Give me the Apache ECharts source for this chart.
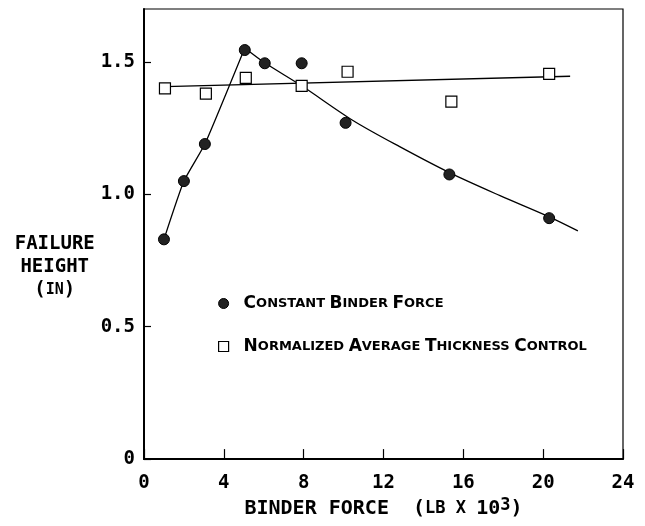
<!DOCTYPE html>
<html>
<head>
<meta charset="utf-8">
<script src="https://cdn.jsdelivr.net/npm/echarts@6/dist/echarts.min.js"></script>
<style>
  html, body { margin: 0; padding: 0; background: #fff; }
  #chart { width: 645px; height: 526px; }
</style>
</head>
<body>
<div id="chart"></div>
<script>
// Measured failure heights (in) versus binder force (lb x 10^3)
const cbfX = [1.0, 2.0, 3.05, 5.05, 6.05, 7.9, 10.1, 15.3, 20.3];
const cbfY = [0.83, 1.05, 1.19, 1.545, 1.495, 1.495, 1.27, 1.075, 0.91];

const natcX = [1.05, 3.1, 5.1, 7.9, 10.2, 15.4, 20.3];
const natcY = [1.40, 1.38, 1.44, 1.41, 1.463, 1.35, 1.455];

// Hand-drawn trend curves through the constant-force data
const cbfRiseX = [1.0, 2.0, 3.05, 5.05];
const cbfRiseY = [0.83, 1.05, 1.19, 1.553];
const cbfFallX = [5.05, 6.05, 7.9, 10.47, 12.81, 15.33, 17.84, 20.3, 21.74];
const cbfFallY = [1.553, 1.497, 1.41, 1.279, 1.18, 1.081, 0.995, 0.915, 0.862];

// Straight trend line through the thickness-control data
const natcFitX = [1.05, 21.35];
const natcFitY = [1.407, 1.446];

const xTicks = [0, 4, 8, 12, 16, 20, 24];
const yTicks = [0, 0.5, 1.0, 1.5];

const seriesNames = ['Constant Binder Force', 'Normalized Average Thickness Control'];

const MONO = '"DejaVu Sans Mono", "Liberation Mono", monospace';
const SANS = '"DejaVu Sans", "Liberation Sans", sans-serif';

const pairs = (xs, ys) => xs.map((x, i) => [x, ys[i]]);

// Small-caps rendering: first letter of each word full size, the rest reduced
function smallCaps(text) {
  return text.split(' ').map(w =>
    '{c|' + w[0].toUpperCase() + '}' + (w.length > 1 ? '{s|' + w.slice(1).toUpperCase() + '}' : '')
  ).join('{s| }');
}

const chart = echarts.init(document.getElementById('chart'), null, { renderer: 'canvas' });

const lineStyle = { color: '#000', width: 1.3 };

chart.setOption({
  backgroundColor: '#fff',
  animation: false,
  grid: {
    left: 144, right: 22, top: 9, bottom: 59,
    show: true, borderColor: '#000', borderWidth: 1.2, backgroundColor: 'transparent'
  },
  xAxis: {
    type: 'value', min: xTicks[0], max: xTicks[xTicks.length - 1], interval: 4,
    axisLine: { lineStyle: { color: '#000', width: 2 } },
    axisTick: { inside: true, length: 10, lineStyle: { color: '#000', width: 1.2 } },
    splitLine: { show: false },
    axisLabel: { margin: 14, color: '#000', fontFamily: MONO, fontWeight: 'bold', fontSize: 19 },
    name: 'BINDER FORCE  {c|(}{s|LB X }{c|10}{sup|3}{c|)}',
    nameLocation: 'middle', nameGap: 42,
    nameTextStyle: {
      color: '#000', fontFamily: MONO, fontWeight: 'bold', fontSize: 20,
      align: 'center', verticalAlign: 'middle', lineHeight: 24,
      rich: {
        c: { fontFamily: MONO, fontWeight: 'bold', fontSize: 20, lineHeight: 24, color: '#000' },
        s: { fontFamily: MONO, fontWeight: 'bold', fontSize: 17, lineHeight: 24, color: '#000' },
        sup: { fontFamily: MONO, fontWeight: 'bold', fontSize: 17, lineHeight: 15, verticalAlign: 'top', color: '#000' }
      }
    }
  },
  yAxis: {
    type: 'value', min: 0, max: 1.7, interval: 0.5,
    axisLine: { show: true, lineStyle: { color: '#000', width: 2 } },
    axisTick: { show: true, inside: true, length: 7, lineStyle: { color: '#000', width: 1.2 },
      customValues: yTicks },
    splitLine: { show: false },
    axisLabel: {
      margin: 9, color: '#000', fontFamily: MONO, fontWeight: 'bold', fontSize: 19,
      customValues: yTicks,
      formatter: v => (v === 0 ? '0' : v.toFixed(1))
    },
    name: 'FAILURE\nHEIGHT\n{c|(}{s|IN}{c|)}',
    nameLocation: 'middle', nameRotate: 0, nameGap: 88,
    nameTextStyle: {
      color: '#000', fontFamily: MONO, fontWeight: 'bold', fontSize: 19, lineHeight: 23,
      align: 'center', verticalAlign: 'middle', padding: [66, 0, 0, 0],
      rich: {
        c: { fontFamily: MONO, fontWeight: 'bold', fontSize: 19, lineHeight: 23, color: '#000' },
        s: { fontFamily: MONO, fontWeight: 'bold', fontSize: 15, lineHeight: 23, color: '#000' }
      }
    }
  },
  legend: {
    orient: 'vertical', left: 213, top: 290, itemGap: 26,
    itemWidth: 10, itemHeight: 10,
    data: [
      { name: seriesNames[0], icon: 'circle', itemStyle: { color: '#222', borderColor: '#000', borderWidth: 1 } },
      { name: seriesNames[1], icon: 'rect', itemStyle: { color: '#fff', borderColor: '#000', borderWidth: 1.2 } }
    ],
    formatter: name => smallCaps(name),
    textStyle: {
      padding: [0, 0, 0, 10],
      rich: {
        c: { fontFamily: SANS, fontWeight: 'bold', fontSize: 17, lineHeight: 20, color: '#000' },
        s: { fontFamily: SANS, fontWeight: 'bold', fontSize: 13, lineHeight: 20, color: '#000' }
      }
    }
  },
  series: [
    {
      name: 'cbf-rise', type: 'line', data: pairs(cbfRiseX, cbfRiseY), smooth: 0.15,
      showSymbol: false, symbol: 'none', lineStyle, z: 1, silent: true
    },
    {
      name: 'cbf-fall', type: 'line', data: pairs(cbfFallX, cbfFallY), smooth: 0.3,
      showSymbol: false, symbol: 'none', lineStyle, z: 1, silent: true
    },
    {
      name: 'natc-fit', type: 'line', data: pairs(natcFitX, natcFitY),
      showSymbol: false, symbol: 'none', lineStyle, z: 1, silent: true
    },
    {
      name: seriesNames[0], type: 'scatter', data: pairs(cbfX, cbfY),
      symbol: 'circle', symbolSize: 11,
      itemStyle: { color: '#222', borderColor: '#000', borderWidth: 1, opacity: 1 }, z: 3
    },
    {
      name: seriesNames[1], type: 'scatter', data: pairs(natcX, natcY),
      symbol: 'rect', symbolSize: 11,
      itemStyle: { color: '#fff', borderColor: '#000', borderWidth: 1.2, opacity: 1 }, z: 3
    }
  ]
});
</script>
</body>
</html>
